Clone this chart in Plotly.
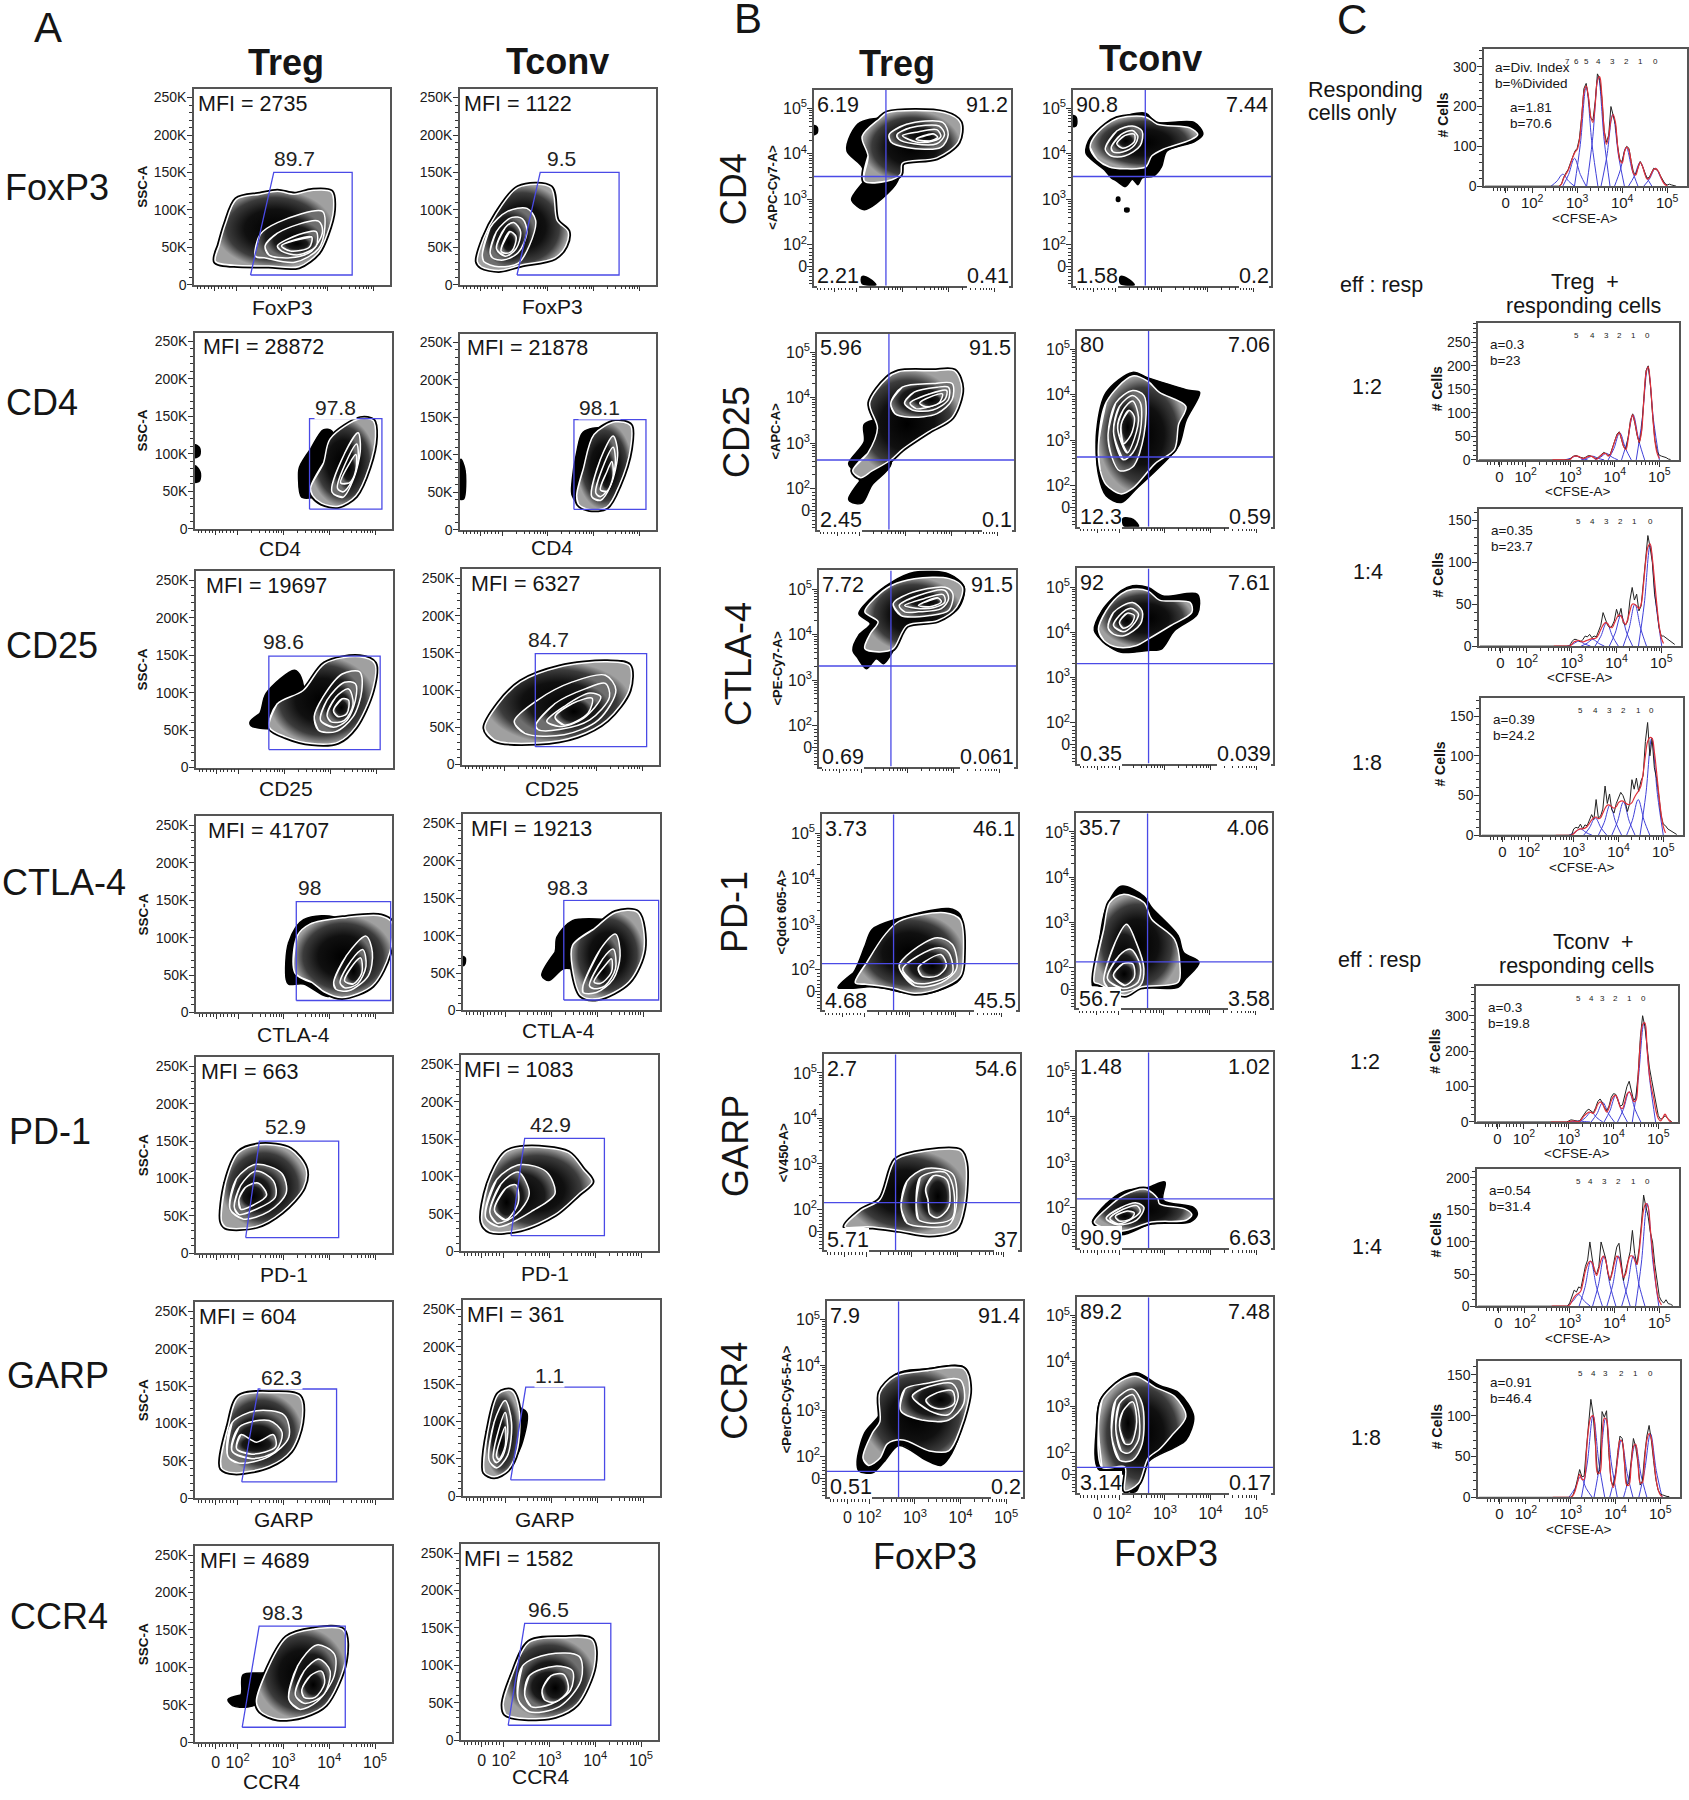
import numpy as np
import plotly.graph_objects as go

FONT = "Liberation Sans"
BLUE = "#4a4ae6"

# ---- Panel A: SSC-A vs marker. x in log10 units, y in thousands ----
a_rows = ["FoxP3", "CD4", "CD25", "CTLA-4", "PD-1", "GARP", "CCR4"]
a_mfi_treg = [2735, 28872, 19697, 41707, 663, 604, 4689]
a_mfi_tconv = [1122, 21878, 6327, 19213, 1083, 361, 1582]
a_pct_treg = ["89.7", "97.8", "98.6", "98", "52.9", "62.3", "98.3"]
a_pct_tconv = ["9.5", "98.1", "84.7", "98.3", "42.9", "1.1", "96.5"]

# gates: low-left x, top-left x, right x, top y, bottom y
a_gate_treg = [(2.31, 2.82, 4.54, 150, 13), (3.57, 3.57, 5.15, 147, 26), (2.66, 2.66, 5.09, 149, 24),
               (3.27, 3.27, 5.34, 148, 16), (2.16, 2.46, 4.2, 150, 21), (2.09, 2.45, 4.16, 146, 22),
               (2.1, 2.47, 4.35, 155, 20)]
a_gate_tconv = [(2.32, 2.83, 4.56, 150, 13), (3.57, 3.57, 5.15, 147, 27), (2.67, 2.67, 5.1, 149, 24),
                (3.27, 3.27, 5.34, 147, 14), (2.16, 2.46, 4.2, 151, 21), (2.11, 2.44, 4.16, 146, 22),
                (2.1, 2.46, 4.34, 156, 20)]

a_foxp3_treg = [
    ([1.54, 1.62, 1.76, 2.0, 2.52, 2.9, 3.28, 3.65, 4.08, 4.13, 3.99, 3.8, 3.37, 2.71, 1.95],
     [31, 52, 81, 114, 121, 125, 121, 126, 124, 100, 67, 43, 24, 25, 26]),
    ([2.42, 2.52, 2.9, 3.89, 3.94, 3.8, 3.28, 2.61], [38, 67, 83, 98, 76, 48, 30, 36]),
    ([2.63, 2.9, 3.8, 3.89, 3.65, 3.18, 2.71], [52, 69, 85, 71, 45, 36, 40]),
    ([2.9, 3.37, 3.75, 3.75, 3.37, 2.99], [52, 67, 71, 52, 40, 45]),
    ([2.99, 3.65, 3.6, 3.18], [52, 64, 50, 45]),
]
a_foxp3_tconv = [
    ([1.45, 1.59, 1.87, 2.35, 3.06, 3.2, 3.44, 3.39, 3.15, 2.4, 1.92, 1.54],
     [31, 62, 95, 130, 130, 86, 71, 52, 36, 26, 19, 24]),
    ([1.56, 1.73, 2.11, 2.54, 2.73, 2.59, 2.35, 1.92, 1.59], [40, 76, 98, 102, 86, 52, 29, 24, 31]),
    ([1.73, 1.87, 2.21, 2.44, 2.54, 2.35, 2.02, 1.78], [43, 71, 90, 88, 71, 43, 33, 36]),
    ([1.87, 2.06, 2.25, 2.4, 2.3, 2.06], [48, 76, 83, 71, 48, 38]),
    ([1.97, 2.16, 2.3, 2.21, 2.06], [45, 71, 64, 45, 42]),
]
a_cd4_treg = [
    ([3.59, 3.87, 4.02, 4.68, 4.96, 5.01, 4.87, 4.58, 4.2, 3.83, 3.64],
     [54, 87, 120, 147, 144, 123, 82, 44, 30, 34, 44]),
    ([4.06, 4.34, 4.63, 4.68, 4.54, 4.3], [49, 101, 128, 106, 68, 42]),
    ([4.18, 4.39, 4.6, 4.63, 4.49, 4.3], [54, 92, 113, 92, 63, 49]),
    ([4.25, 4.44, 4.58, 4.58, 4.44], [61, 87, 99, 78, 61]),
]
a_cd4_treg_black = [
    ([3.35, 3.59, 3.87, 4.06, 4.11, 3.73, 3.4, 3.33], [82, 106, 132, 130, 42, 42, 42, 68]),
    ([1.07, 1.17, 1.17, 1.07], [112, 108, 98, 95]),
    ([1.07, 1.18, 1.17, 1.07], [84, 76, 64, 62]),
]
a_cd4_tconv = [
    ([3.63, 3.77, 4.01, 4.48, 4.81, 4.81, 4.57, 4.29, 3.91, 3.67],
     [46, 80, 127, 144, 139, 108, 60, 30, 27, 34]),
    ([3.96, 4.15, 4.43, 4.53, 4.38, 4.15], [44, 94, 125, 103, 60, 39]),
    ([4.05, 4.24, 4.43, 4.48, 4.34, 4.15], [49, 89, 110, 89, 56, 44]),
    ([4.15, 4.29, 4.4, 4.43, 4.29], [53, 77, 91, 72, 51]),
]
a_cd4_tconv_black = [
    ([3.53, 3.63, 3.77, 4.2, 4.24, 3.72, 3.53], [65, 103, 130, 134, 32, 32, 46]),
    ([1.09, 1.18, 1.15, 1.07], [94, 80, 41, 41]),
]
a_cd25_treg = [
    ([2.67, 2.84, 3.41, 3.88, 4.64, 4.97, 4.92, 4.55, 4.17, 3.6, 3.03],
     [54, 85, 103, 139, 148, 139, 103, 54, 34, 32, 41]),
    ([3.65, 3.84, 4.26, 4.64, 4.69, 4.5, 4.12, 3.74], [68, 94, 125, 128, 103, 68, 48, 50]),
    ([3.79, 3.93, 4.31, 4.55, 4.55, 4.36, 4.07], [63, 90, 114, 112, 90, 63, 54]),
    ([3.93, 4.12, 4.4, 4.5, 4.31, 4.02], [70, 94, 105, 85, 63, 61]),
    ([4.07, 4.26, 4.4, 4.36, 4.17], [76, 92, 90, 72, 68]),
]
a_cd25_treg_black = [
    ([2.25, 2.46, 2.6, 3.22, 3.36, 3.41, 2.94, 2.65, 2.27], [61, 72, 99, 130, 121, 94, 59, 52, 56]),
]
a_cd25_tconv = [
    ([1.57, 1.87, 2.35, 3.2, 4.24, 4.72, 4.72, 4.24, 3.58, 2.73, 1.78],
     [49, 82, 111, 131, 138, 133, 100, 60, 38, 29, 33]),
    ([2.21, 2.73, 3.48, 4.2, 4.43, 4.05, 3.3, 2.44], [58, 87, 111, 120, 100, 60, 40, 42]),
    ([2.68, 3.1, 3.77, 4.2, 4.29, 3.86, 3.2, 2.73], [53, 82, 102, 109, 91, 60, 47, 47]),
    ([2.92, 3.3, 3.86, 4.1, 3.72, 3.2], [58, 78, 96, 91, 62, 51]),
    ([3.1, 3.48, 3.91, 3.82, 3.3], [64, 82, 89, 69, 53]),
]
a_ctla_treg = [
    ([3.24, 3.29, 3.57, 4.37, 5.13, 5.37, 5.32, 4.94, 4.28, 3.9, 3.62],
     [53, 102, 118, 127, 129, 120, 80, 36, 20, 27, 40]),
    ([4.09, 4.37, 4.8, 4.94, 4.85, 4.42, 4.14], [40, 76, 102, 80, 49, 29, 31]),
    ([4.23, 4.47, 4.73, 4.8, 4.61, 4.33], [40, 69, 84, 62, 38, 33]),
    ([4.33, 4.52, 4.68, 4.71, 4.52], [42, 64, 73, 53, 38]),
]
a_ctla_treg_black = [
    ([3.05, 3.1, 3.43, 4.19, 4.0, 3.43, 3.1], [44, 93, 124, 124, 22, 38, 38]),
]
a_ctla_tconv = [
    ([3.46, 3.93, 4.4, 4.88, 5.02, 4.69, 4.02, 3.65, 3.46], [87, 109, 131, 131, 82, 38, 16, 20, 56]),
    ([3.69, 4.07, 4.4, 4.5, 4.35, 3.98, 3.69], [33, 82, 102, 73, 42, 24, 24]),
    ([3.83, 4.12, 4.35, 4.4, 4.17, 3.93], [33, 69, 82, 56, 33, 29]),
    ([3.93, 4.17, 4.31, 4.31, 4.07], [38, 60, 69, 51, 36]),
]
a_ctla_tconv_black = [
    ([2.79, 3.08, 3.12, 3.46, 4.21, 4.97, 3.74, 3.27, 2.94], [47, 78, 98, 120, 122, 122, 56, 56, 40]),
    ([1.07, 1.12, 1.11, 1.07], [72, 70, 62, 60]),
]
a_pd1_treg = [
    ([1.63, 1.72, 2.01, 2.48, 3.14, 3.48, 3.43, 2.95, 2.39, 1.72],
     [43, 94, 135, 145, 139, 113, 88, 55, 36, 35]),
    ([1.82, 1.96, 2.39, 2.95, 3.05, 2.67, 2.1], [59, 100, 119, 107, 81, 56, 46]),
    ([1.91, 2.05, 2.39, 2.77, 2.81, 2.39, 2.01], [62, 91, 110, 97, 75, 59, 52]),
    ([2.01, 2.15, 2.43, 2.62, 2.34, 2.05], [72, 88, 94, 78, 65, 59]),
]
a_pd1_tconv = [
    ([1.53, 1.66, 2.04, 2.46, 3.41, 3.74, 3.93, 3.65, 3.12, 2.37, 1.7],
     [39, 90, 132, 139, 132, 109, 93, 77, 49, 29, 27]),
    ([1.61, 1.85, 2.37, 2.94, 3.12, 2.65, 1.89], [45, 96, 116, 106, 77, 55, 33]),
    ([1.7, 1.94, 2.32, 2.56, 2.27, 1.85], [52, 90, 106, 77, 49, 38]),
    ([1.8, 2.04, 2.27, 2.32, 2.04], [55, 84, 89, 65, 42]),
]
a_garp_treg = [
    ([1.63, 1.79, 2.03, 2.78, 3.35, 3.4, 3.16, 2.69, 1.93, 1.65],
     [50, 95, 136, 141, 136, 101, 63, 43, 34, 40]),
    ([1.79, 1.88, 2.41, 3.02, 3.12, 2.69, 2.03], [56, 101, 117, 111, 82, 56, 47]),
    ([1.88, 2.03, 2.69, 2.97, 2.83, 2.31], [63, 95, 104, 88, 63, 53]),
    ([1.98, 2.07, 2.41, 2.78, 2.83, 2.31], [66, 85, 75, 85, 69, 59]),
]
a_garp_tconv = [
    ([1.52, 1.61, 1.85, 2.13, 2.3, 2.25, 2.04, 1.75, 1.54], [42, 86, 137, 141, 112, 61, 35, 26, 32]),
    ([1.64, 1.75, 1.99, 2.13, 2.04, 1.8], [48, 99, 128, 99, 54, 38]),
    ([1.73, 1.85, 1.99, 2.05, 1.94, 1.8], [51, 89, 112, 86, 54, 45]),
    ([1.8, 1.89, 1.99, 1.99, 1.85], [54, 77, 93, 67, 49]),
]
a_garp_tconv_black = [([2.27, 2.46, 2.37, 2.23], [118, 112, 73, 54])]
a_ccr4_treg = [
    ([2.41, 2.59, 3.07, 3.64, 4.3, 4.35, 3.92, 3.45, 2.88, 2.5],
     [54, 89, 140, 151, 150, 108, 50, 35, 31, 41]),
    ([3.12, 3.31, 3.73, 4.11, 4.11, 3.73, 3.35], [57, 102, 130, 118, 89, 54, 44]),
    ([3.26, 3.45, 3.78, 4.02, 3.87, 3.45], [63, 95, 111, 95, 63, 52]),
    ([3.4, 3.59, 3.83, 3.9, 3.69, 3.45], [70, 89, 95, 79, 60, 60]),
]
a_ccr4_treg_black = [
    ([1.79, 2.07, 2.12, 2.69, 3.07, 2.5, 2.22, 1.89], [57, 63, 90, 95, 140, 54, 47, 49]),
]
a_ccr4_tconv = [
    ([1.99, 2.18, 2.56, 3.31, 3.93, 3.98, 3.6, 3.13, 2.46, 2.04], [48, 86, 131, 137, 134, 99, 48, 32, 29, 35]),
    ([2.32, 2.41, 2.98, 3.65, 3.69, 3.22, 2.56], [54, 99, 115, 112, 80, 45, 38]),
    ([2.46, 2.56, 3.12, 3.5, 3.46, 3.03, 2.6], [61, 86, 99, 93, 67, 48, 45]),
    ([2.84, 3.03, 3.31, 3.41, 3.12, 2.89], [67, 86, 88, 67, 51, 54]),
]

a_treg_shapes = [a_foxp3_treg, a_cd4_treg, a_cd25_treg, a_ctla_treg, a_pd1_treg, a_garp_treg, a_ccr4_treg]
a_tconv_shapes = [a_foxp3_tconv, a_cd4_tconv, a_cd25_tconv, a_ctla_tconv, a_pd1_tconv, a_garp_tconv, a_ccr4_tconv]
a_treg_black = [[], a_cd4_treg_black, a_cd25_treg_black, a_ctla_treg_black, [], [], a_ccr4_treg_black]
a_tconv_black = [[], a_cd4_tconv_black, [], a_ctla_tconv_black, [], a_garp_tconv_black, []]

# ---- Panel B: marker vs FoxP3, both axes in log10 units ----
b_rows = ["CD4", "CD25", "CTLA-4", "PD-1", "GARP", "CCR4"]
b_channels = ["<APC-Cy7-A>", "<APC-A>", "<PE-Cy7-A>", "<Qdot 605-A>", "<V450-A>", "<PerCP-Cy5-5-A>"]
b_quad_treg = [("6.19", "91.2", "2.21", "0.41"), ("5.96", "91.5", "2.45", "0.1"), ("7.72", "91.5", "0.69", "0.061"),
               ("3.73", "46.1", "4.68", "45.5"), ("2.7", "54.6", "5.71", "37"), ("7.9", "91.4", "0.51", "0.2")]
b_quad_tconv = [("90.8", "7.44", "1.58", "0.2"), ("80", "7.06", "12.3", "0.59"), ("92", "7.61", "0.35", "0.039"),
                ("35.7", "4.06", "56.7", "3.58"), ("1.48", "1.02", "90.9", "6.63"), ("89.2", "7.48", "3.14", "0.17")]
b_split_x = 2.64
b_split_y_treg = [3.5, 2.63, 3.31, 2.13, 2.15, 1.67]
b_split_y_tconv = [3.5, 2.63, 3.31, 2.13, 2.19, 1.67]

b_cd4_treg = [
    ([2.17, 2.25, 2.12, 2.5, 2.67, 3.92, 4.26, 4.22, 3.75, 3.0, 2.96, 2.67],
     [3.4, 3.95, 4.38, 4.77, 4.9, 4.9, 4.69, 4.26, 3.91, 3.79, 3.55, 3.4]),
    ([2.71, 3.09, 3.88, 4.0, 3.84, 3.09, 2.75], [4.42, 4.65, 4.69, 4.42, 4.14, 4.14, 4.26]),
    ([2.88, 3.17, 3.8, 3.92, 3.75, 3.25, 2.92], [4.42, 4.57, 4.61, 4.42, 4.22, 4.22, 4.32]),
    ([3.0, 3.34, 3.75, 3.84, 3.67, 3.3], [4.4, 4.48, 4.53, 4.38, 4.28, 4.26]),
    ([3.3, 3.67, 3.77, 3.59], [4.32, 4.44, 4.36, 4.28]),
]
b_cd4_treg_black = [
    ([1.89, 2.17, 2.12, 1.79, 1.87, 2.08, 2.67, 2.92, 2.67, 2.17, 1.96],
     [3.0, 3.4, 3.71, 4.06, 4.42, 4.69, 4.73, 3.47, 3.12, 2.77, 2.89]),
    ([1.07, 1.14, 1.14, 1.07], [4.62, 4.58, 4.46, 4.42]),
    ([2.12, 2.3, 2.42, 2.12], [1.3, 1.24, 1.12, 1.15]),
]
b_cd4_tconv = [
    ([1.6, 1.44, 1.6, 2.02, 2.65, 2.9, 3.61, 3.78, 3.61, 3.03, 2.78, 2.65, 2.19, 1.86],
     [3.87, 4.14, 4.46, 4.77, 4.81, 4.65, 4.57, 4.42, 4.3, 4.1, 3.95, 3.71, 3.67, 3.71]),
    ([1.77, 2.02, 2.36, 2.57, 2.53, 2.19, 1.9], [4.1, 4.5, 4.61, 4.5, 4.18, 3.95, 3.95]),
    ([1.9, 2.11, 2.36, 2.48, 2.4, 2.15, 1.94], [4.14, 4.42, 4.51, 4.38, 4.18, 4.04, 4.04]),
    ([2.02, 2.19, 2.4, 2.4, 2.15], [4.22, 4.4, 4.43, 4.26, 4.12]),
]
b_cd4_tconv_black = [
    ([2.02, 1.9, 1.77, 1.52, 1.35, 1.44, 1.94, 2.65, 2.86, 3.7, 3.89, 3.7, 3.11, 2.99, 2.82, 2.57, 2.48, 2.36, 2.21],
     [3.4, 3.47, 3.63, 3.83, 4.02, 4.34, 4.73, 4.89, 4.69, 4.69, 4.43, 4.26, 4.06, 3.71, 3.51, 3.47, 3.32, 3.44, 3.28]),
    ([2.02, 2.08, 2.08, 2.02], [3.04, 3.04, 2.96, 2.96]),
    ([2.2, 2.28, 2.28, 2.2], [2.8, 2.8, 2.73, 2.73]),
    ([1.07, 1.14, 1.14, 1.07], [4.84, 4.8, 4.62, 4.6]),
    ([2.1, 2.28, 2.4, 2.1], [1.3, 1.24, 1.12, 1.15]),
]
b_cd25_treg = [
    ([1.85, 2.18, 2.39, 2.22, 2.6, 2.85, 3.6, 4.07, 4.23, 4.02, 3.52, 2.93, 2.68, 2.27, 2.02],
     [2.39, 2.78, 3.33, 3.88, 4.43, 4.57, 4.59, 4.59, 4.2, 3.57, 3.26, 2.86, 2.63, 2.39, 2.24]),
    ([2.68, 2.93, 3.6, 4.02, 4.02, 3.69, 3.1, 2.77], [3.88, 4.23, 4.31, 4.31, 3.96, 3.65, 3.57, 3.65]),
    ([2.98, 3.19, 3.69, 3.94, 3.94, 3.6, 3.15], [3.88, 4.12, 4.23, 4.23, 3.96, 3.73, 3.73]),
    ([3.1, 3.52, 3.9, 3.86, 3.52, 3.23], [3.88, 4.08, 4.16, 3.96, 3.8, 3.76]),
    ([3.31, 3.6, 3.81, 3.73, 3.44], [3.88, 4.04, 4.08, 3.88, 3.8]),
]
b_cd25_treg_black = [
    ([1.76, 2.0, 1.87, 1.76, 2.1, 2.1, 2.43, 2.69, 2.27, 2.06, 1.85],
     [1.77, 2.16, 2.39, 2.55, 3.03, 3.41, 3.49, 2.55, 2.08, 1.69, 1.69]),
]
b_cd25_tconv = [
    ([1.54, 1.71, 2.29, 2.63, 2.88, 3.46, 3.3, 3.21, 2.79, 2.29, 2.04, 1.71, 1.58],
     [2.88, 3.83, 4.41, 4.29, 4.05, 3.74, 3.35, 2.8, 2.49, 1.94, 1.82, 2.02, 2.33]),
    ([1.75, 1.92, 2.29, 2.54, 2.54, 2.29, 2.0, 1.83], [3.11, 3.82, 4.09, 3.98, 3.11, 2.41, 2.33, 2.64]),
    ([1.87, 2.0, 2.29, 2.46, 2.46, 2.29, 2.08], [3.19, 3.74, 3.98, 3.82, 3.19, 2.72, 2.57]),
    ([1.96, 2.08, 2.29, 2.42, 2.33, 2.17], [3.27, 3.66, 3.86, 3.51, 3.04, 2.72]),
    ([2.04, 2.21, 2.33, 2.25, 2.08], [3.35, 3.66, 3.51, 3.11, 2.92]),
]
b_cd25_tconv_black = [
    ([1.5, 1.71, 2.29, 2.63, 3.55, 3.76, 3.46, 3.3, 2.88, 2.38, 2.04, 1.71, 1.54],
     [3.19, 4.05, 4.49, 4.37, 4.09, 4.05, 3.43, 2.88, 2.41, 1.94, 1.63, 1.78, 2.25]),
    ([2.08, 2.3, 2.42, 2.1], [1.28, 1.26, 1.1, 1.12]),
]
b_ctla_treg = [
    ([2.07, 2.19, 2.36, 2.07, 2.32, 2.65, 3.15, 3.91, 4.2, 4.07, 3.66, 2.99, 2.69, 2.4],
     [3.69, 4.02, 4.28, 4.5, 4.83, 5.08, 5.23, 5.23, 5.04, 4.6, 4.31, 4.2, 3.69, 3.62]),
    ([2.69, 3.03, 3.82, 3.99, 3.9, 3.49, 2.86], [4.68, 4.9, 5.04, 4.9, 4.53, 4.42, 4.42]),
    ([2.82, 3.24, 3.82, 3.9, 3.74, 3.24, 2.94], [4.64, 4.86, 4.97, 4.79, 4.57, 4.5, 4.5]),
    ([2.94, 3.36, 3.78, 3.82, 3.57, 3.28], [4.64, 4.79, 4.88, 4.72, 4.59, 4.57]),
    ([3.24, 3.66, 3.74, 3.49], [4.64, 4.81, 4.72, 4.61]),
]
b_ctla_treg_black = [
    ([1.81, 1.94, 2.19, 1.94, 2.15, 2.65, 3.15, 3.91, 4.24, 4.07, 2.99, 2.65, 2.48, 2.32, 2.11, 1.9],
     [3.66, 3.99, 4.24, 4.46, 4.75, 5.15, 5.37, 5.33, 5.04, 4.53, 4.17, 3.58, 3.36, 3.47, 3.25, 3.51]),
]
b_ctla_tconv = [
    ([1.54, 1.71, 2.04, 2.29, 2.63, 2.88, 3.55, 3.59, 3.13, 2.63, 2.38, 1.96, 1.66],
     [4.07, 4.48, 4.85, 4.95, 4.91, 4.71, 4.66, 4.44, 4.15, 3.85, 3.71, 3.67, 3.82]),
    ([1.75, 1.87, 2.29, 2.5, 2.46, 2.12, 1.87], [4.11, 4.44, 4.66, 4.47, 4.18, 3.93, 3.96]),
    ([1.87, 2.0, 2.25, 2.42, 2.29, 2.08], [4.15, 4.37, 4.53, 4.4, 4.15, 4.01]),
    ([2.0, 2.17, 2.33, 2.25, 2.08], [4.22, 4.42, 4.37, 4.17, 4.09]),
]
b_ctla_tconv_black = [
    ([1.45, 1.62, 2.04, 2.29, 2.63, 2.96, 3.71, 3.71, 3.21, 2.92, 2.63, 2.04, 1.71],
     [4.04, 4.48, 4.92, 5.03, 4.99, 4.8, 4.84, 4.4, 4.04, 3.63, 3.6, 3.56, 3.74]),
]
b_pd1_treg = [
    ([1.8, 2.05, 2.43, 2.76, 3.76, 4.1, 4.17, 4.1, 3.6, 3.1, 2.59, 2.0],
     [1.71, 2.15, 2.74, 3.06, 3.25, 3.1, 2.3, 1.86, 1.57, 1.48, 1.6, 1.68]),
    ([2.76, 3.05, 3.6, 3.93, 4.02, 3.68, 3.1], [2.08, 2.41, 2.7, 2.55, 2.01, 1.71, 1.64]),
    ([2.84, 3.18, 3.64, 3.85, 3.93, 3.6, 3.1], [2.01, 2.3, 2.48, 2.37, 1.93, 1.75, 1.71]),
    ([3.18, 3.35, 3.68, 3.8, 3.6, 3.26], [2.04, 2.19, 2.33, 2.08, 1.86, 1.86]),
]
b_pd1_treg_black = [
    ([1.42, 1.76, 2.01, 2.17, 2.68, 3.85, 4.1, 4.18, 4.1, 3.6, 3.1, 2.17],
     [1.6, 1.93, 2.51, 2.88, 3.1, 3.34, 3.21, 2.38, 1.79, 1.53, 1.46, 1.63]),
]
b_pd1_tconv = [
    ([1.47, 1.68, 1.81, 2.1, 2.56, 2.73, 3.23, 3.35, 3.31, 2.48, 2.14, 1.56],
     [1.68, 2.85, 3.44, 3.62, 3.44, 3.07, 2.63, 2.05, 1.68, 1.57, 1.39, 1.65]),
    ([1.68, 1.93, 2.18, 2.39, 2.56, 2.48, 2.1, 1.76], [1.72, 2.56, 2.96, 2.56, 1.98, 1.61, 1.47, 1.57]),
    ([1.76, 2.02, 2.27, 2.48, 2.43, 2.1], [1.76, 2.27, 2.41, 2.05, 1.68, 1.54]),
    ([1.89, 2.1, 2.31, 2.35, 2.14], [1.83, 2.09, 2.09, 1.79, 1.61]),
]
b_pd1_tconv_black = [
    ([1.43, 1.56, 1.72, 2.06, 2.56, 2.73, 3.31, 3.43, 3.77, 3.48, 3.31, 2.48, 1.47],
     [1.61, 2.41, 3.29, 3.8, 3.58, 3.33, 2.71, 2.34, 2.12, 1.76, 1.57, 1.57, 1.61]),
]
b_garp_treg = [
    ([1.53, 1.88, 2.3, 2.63, 3.05, 4.06, 4.18, 4.14, 3.97, 3.39, 2.72, 2.05],
     [1.62, 1.98, 2.22, 3.08, 3.24, 3.29, 3.01, 2.06, 1.58, 1.44, 1.54, 1.62]),
    ([2.76, 2.89, 3.3, 3.89, 3.97, 3.81, 3.3, 2.89], [2.06, 2.62, 2.9, 2.78, 2.06, 1.66, 1.62, 1.7]),
    ([3.09, 3.18, 3.72, 3.89, 3.89, 3.56, 3.14], [2.14, 2.7, 2.82, 2.54, 1.82, 1.7, 1.78]),
    ([3.3, 3.47, 3.76, 3.81, 3.56, 3.39, 3.35], [2.46, 2.74, 2.66, 2.06, 1.82, 1.9, 2.22]),
]
b_garp_tconv = [
    ([1.45, 1.75, 2.12, 2.58, 2.84, 2.88, 3.46, 3.59, 3.46, 2.71, 2.04, 1.54],
     [1.68, 2.0, 2.28, 2.4, 2.2, 2.08, 1.96, 1.84, 1.72, 1.68, 1.48, 1.6]),
    ([1.71, 2.04, 2.38, 2.54, 2.38, 1.96], [1.76, 2.0, 2.1, 2.0, 1.72, 1.62]),
    ([1.79, 2.08, 2.38, 2.46, 2.29, 1.96], [1.76, 1.96, 2.04, 1.92, 1.76, 1.64]),
    ([1.91, 2.17, 2.33, 2.25, 2.0], [1.8, 1.92, 1.88, 1.75, 1.7]),
]
b_garp_tconv_black = [
    ([1.41, 1.71, 2.12, 2.63, 3.0, 2.96, 3.63, 3.71, 3.55, 2.71, 2.04, 1.5],
     [1.68, 2.08, 2.36, 2.44, 2.56, 2.16, 2.0, 1.84, 1.68, 1.64, 1.4, 1.6]),
]
b_ccr4_treg = [
    ([1.86, 2.07, 2.23, 2.23, 2.57, 3.24, 4.07, 4.2, 3.99, 3.74, 3.32, 2.74, 2.4, 2.23, 1.98],
     [1.96, 2.52, 2.76, 3.4, 3.76, 3.88, 3.92, 3.48, 2.6, 2.12, 2.12, 2.36, 2.28, 1.96, 1.8]),
    ([2.69, 2.78, 3.24, 3.99, 4.07, 3.74, 3.15], [3.0, 3.48, 3.6, 3.68, 3.16, 2.8, 2.8]),
    ([2.94, 3.15, 3.82, 3.95, 3.74, 3.32], [3.32, 3.48, 3.6, 3.32, 2.92, 3.0]),
    ([3.24, 3.49, 3.82, 3.86, 3.57, 3.32], [3.24, 3.4, 3.44, 3.16, 3.04, 3.12]),
]
b_ccr4_treg_black = [
    ([1.73, 1.9, 2.23, 2.57, 3.24, 4.07, 4.2, 3.99, 3.74, 3.57, 3.24, 2.65, 2.32, 2.07, 1.77],
     [1.88, 2.52, 2.92, 3.8, 3.92, 3.96, 3.48, 2.52, 1.96, 1.8, 1.92, 2.24, 1.88, 1.64, 1.68]),
]
b_ccr4_tconv = [
    ([1.54, 1.62, 2.04, 2.38, 2.79, 3.21, 3.46, 3.13, 2.88, 2.63, 2.42, 2.12, 2.12, 1.62],
     [2.59, 3.15, 3.57, 3.67, 3.43, 3.23, 2.79, 2.35, 2.07, 1.87, 1.32, 1.16, 1.68, 1.67]),
    ([1.83, 1.92, 2.29, 2.5, 2.5, 2.29, 2.0], [2.35, 3.15, 3.39, 3.07, 2.19, 1.83, 1.83]),
    ([1.92, 2.0, 2.29, 2.42, 2.42, 2.21, 2.04], [2.51, 3.07, 3.27, 2.91, 2.27, 1.99, 2.03]),
    ([2.0, 2.08, 2.29, 2.38, 2.25, 2.12], [2.59, 2.91, 3.11, 2.67, 2.19, 2.19]),
]
b_ccr4_tconv_black = [
    ([1.5, 1.58, 2.04, 2.38, 2.88, 3.3, 3.63, 3.46, 3.21, 2.63, 2.38, 2.25, 2.21, 1.54],
     [2.59, 3.15, 3.62, 3.75, 3.47, 3.31, 2.79, 2.27, 2.11, 1.79, 1.16, 1.12, 1.48, 1.63]),
]

b_treg_shapes = [b_cd4_treg, b_cd25_treg, b_ctla_treg, b_pd1_treg, b_garp_treg, b_ccr4_treg]
b_tconv_shapes = [b_cd4_tconv, b_cd25_tconv, b_ctla_tconv, b_pd1_tconv, b_garp_tconv, b_ccr4_tconv]
b_treg_black = [b_cd4_treg_black, b_cd25_treg_black, b_ctla_treg_black, b_pd1_treg_black, [], b_ccr4_treg_black]
b_tconv_black = [b_cd4_tconv_black, b_cd25_tconv_black, b_ctla_tconv_black, b_pd1_tconv_black,
                 b_garp_tconv_black, b_ccr4_tconv_black]

# ---- Panel C: CFSE histograms, sampled every 0.05 log10 from 2.60 ----
cfse_grid = [round(2.6 + 0.05 * i, 2) for i in range(55)]
z8 = [0] * 8

h0_red = [0, 5, 20, 30, 40, 55, 72, 85, 92, 115, 170, 235, 252, 225, 175, 160, 205, 265, 275, 225, 140, 105, 125,
          165, 180, 160, 100, 65, 58, 85, 98, 90, 60, 32, 28, 45, 60, 50, 32, 18, 20, 32, 42, 44, 38, 25, 12, 4, 1]
h0_black = [0, 5, 22, 33, 42, 58, 75, 88, 95, 120, 175, 245, 258, 222, 172, 165, 212, 282, 270, 220, 140, 110, 128,
            200, 178, 155, 100, 65, 62, 88, 100, 95, 62, 35, 30, 48, 62, 50, 35, 20, 22, 35, 45, 42, 38, 26, 15, 6, 3,
            5, 3, 2, 0]
t2_red = z8 + [1, 6, 8, 8, 7, 4, 3, 5, 7, 8, 7, 3, 2, 6, 10, 14, 13, 8, 12, 25, 40, 52, 58, 45, 28, 22, 45, 80, 96,
               80, 55, 38, 60, 125, 185, 198, 160, 95, 40, 14, 3]
t2_black = z8 + [2, 7, 9, 9, 6, 5, 4, 6, 9, 9, 6, 4, 3, 8, 12, 16, 14, 9, 13, 27, 42, 55, 60, 44, 27, 24, 48, 84,
                 98, 78, 52, 36, 62, 130, 190, 200, 158, 92, 42, 18, 10, 8, 7, 5, 2, 1]
t4_red = z8 + [2, 5, 6, 7, 6, 5, 6, 7, 8, 9, 9, 10, 14, 20, 25, 28, 27, 23, 22, 27, 33, 37, 36, 30, 26, 32, 42, 50,
               50, 48, 45, 50, 72, 100, 118, 122, 105, 78, 50, 25, 10, 3]
t4_black = z8 + [5, 8, 8, 6, 5, 8, 12, 11, 14, 10, 12, 11, 18, 25, 40, 33, 25, 22, 24, 30, 44, 35, 45, 28, 25, 30,
                 55, 70, 55, 62, 42, 48, 78, 105, 132, 118, 100, 62, 45, 22, 12, 12, 10, 8, 5, 3, 2]
t8_red = z8 + [2, 5, 7, 8, 8, 9, 11, 15, 19, 22, 23, 21, 22, 28, 34, 38, 38, 36, 34, 36, 41, 43, 43, 41, 39, 39, 41,
               47, 52, 56, 62, 78, 100, 118, 123, 122, 105, 80, 52, 28, 11, 3]
t8_black = z8 + [8, 10, 9, 14, 8, 13, 12, 20, 26, 20, 45, 22, 24, 33, 62, 40, 52, 32, 28, 40, 46, 54, 50, 42, 30, 40,
                 70, 58, 72, 55, 68, 75, 118, 142, 100, 122, 85, 72, 50, 25, 14, 12, 8, 6, 5, 3, 1]
c2_red = z8 + [1, 2, 3, 2, 1, 3, 10, 18, 24, 28, 27, 24, 35, 50, 57, 52, 38, 28, 40, 60, 72, 75, 62, 42, 38, 55, 78,
               85, 75, 58, 60, 130, 225, 275, 280, 205, 135, 95, 65, 30, 10, 3, 12, 22, 12, 3, 0]
c2_black = z8 + [3, 6, 5, 4, 2, 4, 14, 25, 32, 36, 30, 26, 40, 58, 65, 55, 40, 32, 45, 70, 80, 78, 60, 45, 48, 75,
                 100, 115, 85, 60, 70, 135, 240, 300, 270, 210, 155, 120, 85, 45, 18, 8, 10, 18, 10, 5, 1]
c4_red = z8 + [2, 8, 14, 18, 20, 24, 38, 55, 65, 70, 68, 58, 48, 58, 72, 78, 72, 55, 42, 52, 68, 78, 75, 60, 45, 50,
               68, 78, 78, 72, 65, 85, 120, 150, 160, 155, 120, 85, 50, 22, 8, 2]
c4_black = z8 + [5, 15, 25, 22, 30, 28, 45, 62, 72, 100, 75, 55, 50, 62, 100, 85, 75, 52, 40, 55, 72, 92, 98, 65, 40,
                 55, 70, 85, 118, 82, 65, 90, 128, 173, 155, 140, 115, 100, 65, 35, 15, 8, 5, 10, 4, 3, 1]
c8_red = z8 + [0, 2, 8, 18, 28, 22, 22, 55, 85, 98, 100, 75, 30, 30, 75, 97, 95, 60, 22, 12, 25, 50, 70, 68, 42, 15,
               15, 40, 62, 65, 45, 18, 18, 45, 70, 78, 72, 50, 25, 10, 3, 1]
c8_black = z8 + [0, 3, 10, 22, 34, 25, 26, 60, 95, 120, 102, 70, 28, 34, 105, 98, 106, 55, 20, 14, 28, 55, 75, 72, 38,
                 14, 18, 45, 72, 62, 42, 15, 20, 52, 75, 88, 70, 45, 22, 9, 4, 3, 2, 1, 1]

# generation peaks: position on the CFSE axis and fitted height, generation 0 first
h0_peak_x = [4.74, 4.4, 4.09, 3.79, 3.47, 3.2, 2.94, 2.68]
h0_peak_y = [45, 60, 98, 180, 275, 250, 70, 30]
h0_gen_x = [4.73, 4.4, 4.09, 3.78, 3.47, 3.2, 2.98, 2.78]
t2_peak_x = [4.74, 4.41, 4.11, 3.81, 3.5, 3.13]
t2_peak_y = [198, 96, 58, 14, 8, 8]
t4_peak_x = [4.75, 4.41, 4.1, 3.78, 3.47, 3.16]
t4_peak_y = [120, 50, 37, 28, 8, 6]
t8_peak_x = [4.74, 4.44, 4.11, 3.81, 3.48, 3.15]
t8_peak_y = [122, 45, 42, 38, 22, 8]
c2_peak_x = [4.68, 4.35, 4.05, 3.76, 3.5, 3.22]
c2_peak_y = [280, 85, 75, 55, 28, 3]
c4_peak_x = [4.73, 4.42, 4.09, 3.77, 3.47, 3.2]
c4_peak_y = [160, 78, 78, 78, 70, 18]
c8_peak_x = [4.78, 4.44, 4.13, 3.78, 3.5, 3.22]
c8_peak_y = [78, 65, 70, 97, 100, 25]

hist_red = [h0_red, t2_red, t4_red, t8_red, c2_red, c4_red, c8_red]
hist_black = [h0_black, t2_black, t4_black, t8_black, c2_black, c4_black, c8_black]
hist_peak_x = [h0_peak_x, t2_peak_x, t4_peak_x, t8_peak_x, c2_peak_x, c4_peak_x, c8_peak_x]
hist_peak_y = [h0_peak_y, t2_peak_y, t4_peak_y, t8_peak_y, c2_peak_y, c4_peak_y, c8_peak_y]
hist_gen_x = [h0_gen_x, t2_peak_x, t4_peak_x, t8_peak_x, c2_peak_x, c4_peak_x, c8_peak_x]
hist_a = ["a=1.81", "a=0.3", "a=0.35", "a=0.39", "a=0.3", "a=0.54", "a=0.91"]
hist_b = ["b=70.6", "b=23", "b=23.7", "b=24.2", "b=19.8", "b=31.4", "b=46.4"]
hist_ymax = [345, 292, 164, 173, 385, 214, 167]
hist_ticks = [[0, 100, 200, 300], [0, 50, 100, 150, 200, 250], [0, 50, 100, 150], [0, 50, 100, 150],
              [0, 100, 200, 300], [0, 50, 100, 150, 200], [0, 50, 100, 150]]
hist_minor = [20, 10, 10, 10, 20, 10, 10]

# ---- plot boxes on the page: left, right, top, bottom ----
W, H = 1689, 1800
a_boxes_treg = [(194, 390, 89, 286), (195, 392, 334, 531), (196, 393, 574, 771), (196, 392, 820, 1017),
                (196, 392, 1062, 1259), (195, 392, 1308, 1505), (195, 392, 1553, 1750)]
a_boxes_tconv = [(460, 656, 89, 286), (460, 656, 335, 532), (462, 659, 572, 768), (463, 660, 818, 1015),
                 (461, 658, 1060, 1257), (463, 660, 1306, 1503), (461, 658, 1551, 1748)]
b_boxes_treg = [(814, 1011, 90, 287), (817, 1014, 335, 532), (819, 1016, 573, 770), (822, 1018, 818, 1015),
                (824, 1020, 1059, 1256), (827, 1023, 1307, 1504)]
b_boxes_tconv = [(1073, 1271, 90, 287), (1077, 1273, 332, 529), (1077, 1273, 571, 767), (1076, 1272, 817, 1013),
                 (1077, 1273, 1057, 1254), (1077, 1273, 1303, 1500)]
c_boxes = [(1484, 1687, 49, 187), (1478, 1679, 324, 462), (1479, 1681, 511, 649), (1481, 1683, 701, 839),
           (1476, 1678, 990, 1127), (1477, 1679, 1174, 1312), (1478, 1680, 1367, 1504)]

LOG_RANGE = [1.07, 5.37]
CFSE_RANGE = [0.93, 5.44]
BIEX_RANGE_Y = [1.1, 5.41]
ZERO_POS = 1.52
decades = [ZERO_POS, 2, 3, 4, 5]
decade_text = ["0", "10<sup>2</sup>", "10<sup>3</sup>", "10<sup>4</sup>", "10<sup>5</sup>"]
log_minor = [float(np.log10(k) + d) for d in (2, 3, 4) for k in range(2, 10)] + [1.15, 1.22, 1.3, 1.38, 1.45, 1.6, 1.68, 1.76, 1.84, 1.92]

ZEBRA_OUTER = [[0, "#000000"], [0.5, "#101010"], [0.8, "#3c3c3c"], [1, "#a0a0a0"]]
ZEBRA_INNER = [[0, "#000000"], [0.7, "#1a1a1a"], [1, "#6e6e6e"]]

fig = go.Figure()
layout = {}
notes = []
count = 0


def text(label, px, py, size, anchor="center", angle=0, weight="normal", bg=None):
    notes.append(dict(text=label, x=px / W, y=1 - py / H, xref="paper", yref="paper", showarrow=False,
                      xanchor=anchor, yanchor="middle", textangle=angle, borderpad=0, borderwidth=0,
                      bgcolor=bg, font=dict(family=FONT, size=size, color="#151515", weight=weight)))


def new_axes(box, xrange, yrange, xticks, xtext, yticks, ytext, xminor, yminor, show_x, tick_size=14, x_size=16,
             x_standoff=0, y_standoff=-2):
    global count
    count += 1
    left, right, top, bottom = box
    suffix = "" if count == 1 else str(count)
    base = dict(showgrid=False, zeroline=False, showline=True, mirror=True, linecolor="#555555", linewidth=1.5,
                ticks="outside", ticklen=5, tickwidth=1, tickcolor="#333333", tickmode="array",
                tickfont=dict(family=FONT, size=tick_size, color="#1a1a1a"), fixedrange=True)
    layout["xaxis" + suffix] = dict(base, domain=[left / W, right / W], range=xrange, anchor="y" + suffix,
                                    tickvals=xticks, ticktext=xtext, showticklabels=show_x,
                                    ticklabelstandoff=x_standoff,
                                    tickfont=dict(family=FONT, size=x_size, color="#1a1a1a"),
                                    minor=dict(ticks="outside", ticklen=3, tickcolor="#333333", tickmode="array",
                                               tickvals=xminor))
    layout["yaxis" + suffix] = dict(base, domain=[1 - bottom / H, 1 - top / H], range=yrange, anchor="x" + suffix,
                                    tickvals=yticks, ticktext=ytext, ticklabelstandoff=y_standoff,
                                    minor=dict(ticks="outside", ticklen=3, tickcolor="#333333",
                                               tickmode="array", tickvals=yminor))
    return "x" + suffix, "y" + suffix


def add_zebra(xa, ya, contours, black):
    # start one point early and run one point past the seam so the spline closes without a cusp
    def poly(xs, ys, **kw):
        xs, ys = list(xs), list(ys)
        fig.add_trace(go.Scatter(x=xs[-1:] + xs + xs[:2], y=ys[-1:] + ys + ys[:2], mode="lines", xaxis=xa, yaxis=ya,
                                 fill="toself", hoverinfo="skip", showlegend=False, **kw))

    for xs, ys in black:
        poly(xs, ys, line=dict(color="black", width=1.5, shape="spline", smoothing=0.9), fillcolor="black")
    xs, ys = contours[0]
    poly(xs, ys, line=dict(color="black", width=5, shape="spline", smoothing=0.9), fillcolor="black")
    for i, (xs, ys) in enumerate(contours):
        poly(xs, ys, line=dict(color="white", width=1.5, shape="spline", smoothing=0.9),
             fillgradient=dict(type="radial", colorscale=ZEBRA_OUTER if i == 0 else ZEBRA_INNER))


# ---- Panel A ----
ssc_ticks = [0, 50, 100, 150, 200, 250]
ssc_text = ["0", "50K", "100K", "150K", "200K", "250K"]
ssc_minor = [v for v in range(10, 260, 10) if v % 50]
a_label_treg = [(282, 309), (280, 551), (286, 792), (293, 1039), (284, 1280), (284, 1526), (271, 1789)]
a_label_tconv = [(552, 308), (552, 550), (552, 792), (558, 1035), (545, 1279), (545, 1526), (540, 1784)]
a_pct_pos_treg = [(3.28, 169), (4.13, 162), (2.98, 168), (3.55, 167), (3.03, 169), (2.95, 162), (2.97, 173)]
a_pct_pos_tconv = [(3.3, 169), (4.12, 163), (2.96, 168), (3.36, 164), (3.03, 169), (2.96, 162), (2.98, 174)]
a_mfi_inset = [[4, 8, 10, 12, 5, 4, 5], [4, 7, 9, 8, 3, 4, 3]]

for col, (boxes, shapes, blacks, gates, mfis, pcts, pct_pos, lab_pos) in enumerate([
    (a_boxes_treg, a_treg_shapes, a_treg_black, a_gate_treg, a_mfi_treg, a_pct_treg, a_pct_pos_treg, a_label_treg),
    (a_boxes_tconv, a_tconv_shapes, a_tconv_black, a_gate_tconv, a_mfi_tconv, a_pct_tconv, a_pct_pos_tconv, a_label_tconv),
]):
    for r, row in enumerate(a_rows):
        xa, ya = new_axes(boxes[r], LOG_RANGE, [0, 262], decades, decade_text, ssc_ticks, ssc_text,
                          log_minor, ssc_minor, r == 6)
        add_zebra(xa, ya, shapes[r], blacks[r])
        low, high, right, top, bot = gates[r]
        fig.add_trace(go.Scatter(x=[low, high, right, right, low], y=[bot, top, top, bot, bot], mode="lines", xaxis=xa,
                                 yaxis=ya, line=dict(color=BLUE, width=1.3), hoverinfo="skip", showlegend=False))
        notes.append(dict(text=pcts[r], x=pct_pos[r][0], y=pct_pos[r][1], xref=xa, yref=ya,
                          showarrow=False, bgcolor="white", borderpad=0,
                          font=dict(family=FONT, size=21, color="#222222")))
        left, _, top_px, _ = boxes[r]
        text("MFI = %d" % mfis[r], left + a_mfi_inset[col][r], top_px + 15, 21.5, anchor="left")
        text(row, lab_pos[r][0], lab_pos[r][1], 21)
        if col == 0:
            text("SSC-A", 143, (boxes[r][2] + boxes[r][3]) / 2, 13.5, angle=-90, weight="bold")

# ---- Panel B ----
for col, (boxes, shapes, blacks, quads, splits) in enumerate([
    (b_boxes_treg, b_treg_shapes, b_treg_black, b_quad_treg, b_split_y_treg),
    (b_boxes_tconv, b_tconv_shapes, b_tconv_black, b_quad_tconv, b_split_y_tconv),
]):
    for r in range(6):
        xa, ya = new_axes(boxes[r], LOG_RANGE, BIEX_RANGE_Y, decades, decade_text, decades, decade_text,
                          log_minor, log_minor, r == 5, tick_size=16, y_standoff=-3)
        add_zebra(xa, ya, shapes[r], blacks[r])
        fig.add_trace(go.Scatter(x=[b_split_x, b_split_x], y=BIEX_RANGE_Y, mode="lines", xaxis=xa, yaxis=ya,
                                 line=dict(color=BLUE, width=1.3), hoverinfo="skip", showlegend=False))
        fig.add_trace(go.Scatter(x=LOG_RANGE, y=[splits[r], splits[r]], mode="lines", xaxis=xa, yaxis=ya,
                                 line=dict(color=BLUE, width=1.3), hoverinfo="skip", showlegend=False))
        left, right, top, bottom = boxes[r]
        tl, tr, bl, br = quads[r]
        text(tl, left + 3, top + 15, 21.5, anchor="left")
        text(tr, right - 3, top + 15, 21.5, anchor="right")
        text(bl, left + 3, bottom - 10, 21.5, anchor="left", bg="white")
        text(br, right - 2, bottom - 10, 21.5, anchor="right", bg="white")
        if col == 0:
            text(b_channels[r].replace("<", "&lt;").replace(">", "&gt;"), left - 41, (top + bottom) / 2, 13,
                 angle=-90, weight="bold")

# ---- Panel C ----
for i, box in enumerate(c_boxes):
    ymax = hist_ymax[i]
    step = hist_minor[i]
    xa, ya = new_axes(box, CFSE_RANGE, [0, ymax], decades, decade_text, hist_ticks[i], [str(v) for v in hist_ticks[i]],
                      log_minor, list(range(0, ymax, step)), True, x_size=15, x_standoff=-3)
    layout["xaxis" + xa[1:]]["tickvals"] = [1.41, 2, 3, 4, 5]
    for c, h in zip(hist_peak_x[i], hist_peak_y[i]):
        fig.add_trace(go.Scatter(x=[c - 0.26, c - 0.13, c, c + 0.13, c + 0.26], y=[0, 0.42 * h, h, 0.42 * h, 0],
                                 mode="lines", xaxis=xa, yaxis=ya, line=dict(color="#4040d8", width=1, shape="spline"),
                                 hoverinfo="skip", showlegend=False))
    fig.add_trace(go.Scatter(x=[0.95] + cfse_grid[:len(hist_black[i])], y=[0] + hist_black[i], mode="lines", xaxis=xa,
                             yaxis=ya, line=dict(color="#222222", width=1), hoverinfo="skip", showlegend=False))
    fig.add_trace(go.Scatter(x=cfse_grid[:len(hist_red[i])], y=hist_red[i], mode="lines", xaxis=xa, yaxis=ya,
                             line=dict(color="#e0303a", width=1.2, shape="spline"), hoverinfo="skip", showlegend=False))
    for g, c in enumerate(hist_gen_x[i]):
        notes.append(dict(text=str(g), x=c, y=0.955, xref=xa, yref=ya + " domain", showarrow=False,
                          font=dict(family=FONT, size=8, color="#222222")))
    left, right, top, bottom = box
    inner_x = left + 26 if i == 0 else left + 12
    first = top + 59 if i == 0 else top + 22
    text(hist_a[i], inner_x, first, 13.5, anchor="left")
    text(hist_b[i], inner_x, first + 16, 13.5, anchor="left")
    text("&lt;CFSE-A&gt;", (left + right) / 2 - 1, bottom + 32, 13.5)
    text("# Cells", left - 41, (top + bottom) / 2 - 2, 14, angle=-90, weight="bold")

text("a=Div. Index", 1495, 68, 13.5, anchor="left")
text("b=%Divided", 1495, 84, 13.5, anchor="left")

# ---- headings ----
for label, px, py in [("A", 48, 28), ("B", 748, 19), ("C", 1352, 20)]:
    text(label, px, py, 42)
for label, px, py in [("Treg", 286, 63), ("Tconv", 557, 62), ("Treg", 897, 64), ("Tconv", 1150, 59)]:
    text(label, px, py, 36, weight="bold")
for label, px, py in [("FoxP3", 5, 188), ("CD4", 6, 404), ("CD25", 6, 648), ("CTLA-4", 2, 886), ("PD-1", 9, 1137),
                      ("GARP", 7, 1382), ("CCR4", 10, 1624)]:
    text(label, px, py, 36, anchor="left")
for label, px, py in [("CD4", 733, 190), ("CD25", 736, 434), ("CTLA-4", 738, 667), ("PD-1", 735, 916),
                      ("GARP", 736, 1151), ("CCR4", 735, 1397)]:
    text(label, px, py, 36, angle=-90)
text("FoxP3", 925, 1563, 36)
text("FoxP3", 1166, 1560, 36)
text("Responding", 1308, 90, 21.5, anchor="left")
text("cells only", 1308, 114, 21.5, anchor="left")
text("eff : resp", 1381, 286, 21.5)
text("Treg  +", 1585, 283, 21.5)
text("responding cells", 1583, 307, 21.5)
text("eff : resp", 1379, 964, 21.5)
text("Tconv  +", 1593, 946, 21.5)
text("responding cells", 1576, 970, 21.5)
for label, px, py in [("1:2", 1367, 389), ("1:4", 1368, 575), ("1:8", 1367, 766),
                      ("1:2", 1365, 1067), ("1:4", 1367, 1253), ("1:8", 1366, 1444)]:
    text(label, px, py, 21.5)

fig.update_layout(width=W, height=H, margin=dict(l=0, r=0, t=0, b=0), paper_bgcolor="white", plot_bgcolor="white",
                  showlegend=False, annotations=notes, **layout)
fig.write_html("out.html", config={"displayModeBar": False}, post_script="document.body.style.margin='0';")
